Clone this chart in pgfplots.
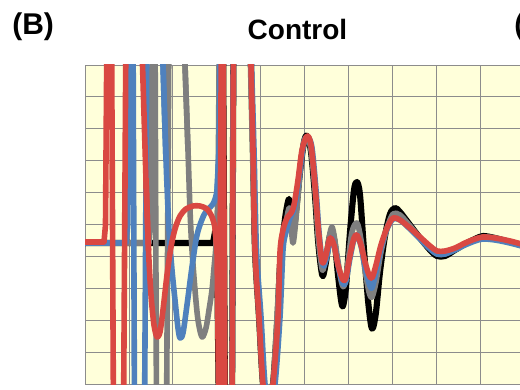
\documentclass[border=0pt]{standalone}
\usepackage{pgfplots}
\pgfplotsset{compat=1.18}
\usepackage{fontspec}
\setmainfont{Liberation Sans}
\definecolor{bg}{RGB}{255,255,218}
\definecolor{gridc}{RGB}{140,140,140}
\definecolor{cred}{RGB}{217,72,66}
\definecolor{cblue}{RGB}{79,129,189}
\definecolor{cgray}{RGB}{127,127,127}
\begin{document}
\begin{tikzpicture}
\useasboundingbox (0,0) rectangle (390pt,291.75pt);
\clip (0,0) rectangle (390pt,291.75pt);
\begin{scope}[x=0.75pt,y=-0.75pt,shift={(0,291.75pt)}]
\node[anchor=base west,inner sep=0,font=\fontsize{22.5}{24}\selectfont\bfseries] at (12,35) {(B)};
\node[anchor=base,inner sep=0,font=\fontsize{21}{24}\selectfont\bfseries] at (297.5,40) {Control};
\node[anchor=base west,inner sep=0,font=\fontsize{22}{24}\selectfont\bfseries] at (514,35) {(C)};
\end{scope}
\begin{axis}[at={(63.75pt,3.75pt)}, anchor=south west, scale only axis,
  width=375pt, height=239.25pt,
  xmin=85, xmax=585, ymin=-384, ymax=-65,
  axis background/.style={fill=bg},
  grid=major, major grid style={gridc, line width=0.6pt},
  axis line style={gridc, line width=0.6pt},
  xtick={85,128.9,172.8,216.7,260.6,304.5,348.4,392.3,436.2,480.1,524.0,567.9},
  ytick={-384,-352.1,-320.2,-288.3,-256.4,-224.5,-192.6,-160.7,-128.8,-96.9,-65},
  xticklabels={}, yticklabels={}, major tick length=0pt,
  clip=true,
  every axis plot/.append style={line width=4.2pt, line join=round, line cap=round, tension=0.5}]
% ---------- black
\addplot[black, line width=4.6pt, sharp plot] coordinates {(85,-243)(150,-243)(213,-243)(215,-232)(217,-250)(219,-420)(221.5,-20)(223,-20)(225,-420)(232,-420)(233.5,-20)(249.5,-20)(251,-65)};
\addplot[black, line width=4.6pt, smooth] coordinates {(251,-65)(253,-150)(255,-250)(259,-317)(263,-384)(268,-405)(273,-384)(277.5,-317)(280,-265)(283,-235)(286,-212)(289,-199)(291,-213)(293,-235)(296,-212)(300,-172)(304,-142)(307,-136)(311,-152)(315,-196)(318,-240)(321,-268)(323,-276)(326,-262)(329,-240)(332,-231)(335,-245)(338,-275)(341,-300)(343,-306)(346,-287)(350,-232)(354,-190)(357,-182)(360,-195)(364,-250)(368,-300)(371,-325)(373,-328)(376,-312)(380,-272)(385,-236)(390,-214)(395,-208)(400,-212)(410,-225)(420,-238)(430,-250)(437,-256)(445,-256)(455,-250)(465,-244)(475,-239)(483,-236)(495,-238)(510,-242)(525,-246)};
% ---------- gray
\addplot[cgray, sharp plot] coordinates {(85,-243)(149,-243)(150.5,-225)(152.5,-20)(155,-20)(156.5,-420)(166.5,-420)(169,-20)(183,-20)(185,-65)(188,-150)};
\addplot[cgray, smooth] coordinates {(185,-65)(188,-150)(190,-210)(192,-250)(195,-290)(198,-320)(202,-337)(206,-328)(209,-310)(212,-290)(214,-268)(216,-245)(218,-200)};
\addplot[cgray, sharp plot] coordinates {(216,-245)(218,-200)(219.5,-20)(222.5,-20)(224.5,-420)(232,-420)(233.5,-20)(249,-20)(250.5,-65)};
\addplot[cgray, smooth] coordinates {(250.5,-65)(252.5,-150)(255,-250)(259,-317)(263,-384)(268,-405)(273,-384)(277,-317)(280,-265)(284,-235)(288,-212)(290,-210)(293,-243)(297,-207)(301,-162)(304,-142)(307,-137)(311,-150)(315,-190)(318,-235)(321,-262)(323,-270)(327,-250)(332,-227)(337,-255)(341,-280)(344,-286)(348,-262)(352,-232)(357,-223)(361,-240)(365,-270)(369,-292)(372,-297)(376,-282)(381,-252)(387,-228)(393,-214)(400,-215)(410,-226)(420,-238)(430,-248)(437,-254)(445,-254)(455,-249)(465,-244)(475,-240)(483,-237)(495,-238)(510,-242)(525,-246)};
% ---------- blue
\addplot[cblue, sharp plot] coordinates {(85,-243)(126,-243)(127.5,-225)(129.5,-20)(133,-20)(134.5,-420)(144.5,-420)(147,-20)(161.5,-20)(163,-65)(166,-160)};
\addplot[cblue, smooth] coordinates {(163,-65)(166,-160)(169,-230)(172,-270)(175,-300)(178,-328)(180,-338)(183,-333)(187,-305)(192,-267)(197,-235)(203,-217)(208,-209)(213,-204)(217,-190)(219,-150)};
\addplot[cblue, sharp plot] coordinates {(217,-190)(219,-150)(220.5,-20)(222,-20)(224,-420)(232,-420)(233.5,-20)(250,-20)(251.5,-65)};
\addplot[cblue, smooth] coordinates {(251.5,-65)(254,-150)(256.5,-250)(261,-317)(265,-384)(270,-405)(275,-384)(280,-317)(283,-250)(286,-232)(290,-218)(293,-212)(296,-200)(300,-170)(304,-142)(308,-137)(312,-148)(316,-190)(319,-232)(322,-260)(324,-266)(327,-256)(331,-238)(335,-248)(339,-270)(343,-284)(346,-281)(350,-258)(354,-239)(357,-235)(361,-246)(365,-267)(369,-283)(372,-288)(376,-272)(381,-248)(387,-229)(393,-219)(400,-220)(410,-229)(420,-239)(430,-249)(437,-254)(445,-254)(455,-250)(465,-245)(475,-241)(483,-239)(495,-240)(510,-243)(525,-247)};
% ---------- red
\addplot[cred, sharp plot] coordinates {(82,-242)(104,-242)(105.5,-225)(107,-20)(111.5,-20)(113.5,-420)(123.5,-420)(126,-20)(140.5,-20)(142.5,-65)(146,-180)(148.5,-250)};
\addplot[cred, smooth] coordinates {(146,-180)(148.5,-250)(151,-295)(154,-325)(157,-337)(160,-332)(163,-310)(167,-275)(171,-247)(175,-229)(180,-216)(186,-209)(193,-206)(200,-206)(207,-209)(212,-217)(215,-228)(217,-250)};
\addplot[cred, sharp plot] coordinates {(215,-228)(217,-250)(219,-420)(221.5,-20)(223,-20)(225,-420)(232,-420)(233.5,-20)(249.5,-20)(251,-65)};
\addplot[cred, smooth] coordinates {(251,-65)(253,-150)(255,-250)(259,-317)(263,-384)(268,-405)(273,-384)(278,-317)(280,-252)(283,-230)(287,-218)(291,-213)(294,-205)(298,-180)(302,-150)(307,-136)(311,-145)(315,-185)(318,-225)(321,-255)(323,-263)(326,-255)(330,-238)(334,-245)(338,-265)(343,-280)(346,-277)(350,-255)(354,-238)(357,-235)(361,-245)(365,-262)(369,-275)(372,-278)(376,-265)(381,-245)(387,-228)(393,-218)(400,-220)(410,-228)(420,-237)(430,-246)(437,-251)(445,-251)(455,-248)(465,-243)(475,-239)(483,-237)(495,-238)(510,-241)(525,-245)};
\end{axis}
\end{tikzpicture}
\end{document}
